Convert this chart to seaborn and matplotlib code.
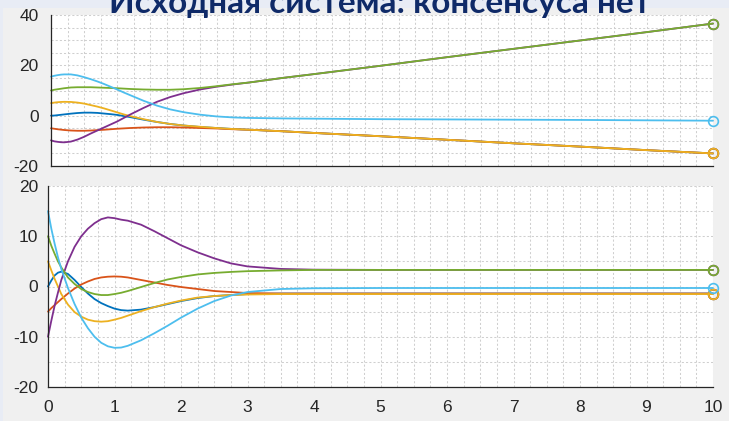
import matplotlib
matplotlib.use("Agg")
import matplotlib.pyplot as plt
from matplotlib.patches import Rectangle
from matplotlib.ticker import MultipleLocator
import seaborn as sns

# time samples
t = [0, 0.05, 0.1, 0.15, 0.2, 0.3, 0.4, 0.5, 0.6, 0.7, 0.8, 0.9, 1.0, 1.1, 1.2, 1.4, 1.6,
     1.8, 2.0, 2.25, 2.5, 2.75, 3.0, 3.5, 4.0, 5, 6, 7, 8, 9, 10]

# agent states x_i(t)
blue_x = [0.0, 0.05, 0.2, 0.35, 0.5, 0.8, 1.05, 1.2, 1.2, 1.1, 0.85, 0.6, 0.3, -0.15, -0.6,
          -1.6, -2.5, -3.3, -3.9, -4.5, -4.9, -5.3, -5.6, -6.2, -6.9, -8.2, -9.6, -11.0,
          -12.3, -13.7, -15.0]
orange_x = [-5.0, -5.2, -5.4, -5.55, -5.7, -5.9, -6.0, -6.0, -5.9, -5.75, -5.6, -5.4, -5.2,
            -5.05, -4.9, -4.7, -4.6, -4.6, -4.7, -4.9, -5.1, -5.4, -5.6, -6.2, -6.9, -8.2,
            -9.6, -11.0, -12.3, -13.7, -15.0]
yellow_x = [5.0, 5.2, 5.35, 5.45, 5.5, 5.45, 5.2, 4.8, 4.2, 3.6, 2.9, 2.1, 1.3, 0.5, -0.2,
            -1.4, -2.5, -3.3, -3.9, -4.4, -4.9, -5.3, -5.6, -6.2, -6.9, -8.2, -9.6, -11.0,
            -12.3, -13.7, -15.0]
purple_x = [-9.8, -10.2, -10.4, -10.55, -10.6, -10.3, -9.5, -8.4, -7.1, -5.9, -4.7, -3.5,
            -2.3, -0.9, 0.5, 3.1, 5.5, 7.4, 8.9, 10.4, 11.5, 12.4, 13.2, 15.0, 16.6, 19.9,
            23.3, 26.6, 29.9, 33.2, 36.6]
green_x = [10.0, 10.3, 10.5, 10.7, 10.9, 11.2, 11.3, 11.3, 11.3, 11.2, 11.1, 11.0, 10.9,
           10.75, 10.6, 10.4, 10.3, 10.3, 10.5, 11.0, 11.7, 12.5, 13.2, 15.0, 16.6, 19.9,
           23.3, 26.6, 29.9, 33.2, 36.6]
lightblue_x = [15.5, 15.85, 16.1, 16.3, 16.4, 16.4, 16.0, 15.3, 14.5, 13.6, 12.6, 11.5, 10.4,
               9.2, 8.1, 5.9, 4.0, 2.5, 1.4, 0.4, -0.3, -0.7, -0.9, -1.1, -1.2, -1.4, -1.5,
               -1.6, -1.7, -1.85, -2.0]

# agent velocities v_i(t)
blue_v = [0.0, 1.2, 2.2, 2.75, 2.95, 2.5, 1.3, -0.1, -1.4, -2.5, -3.3, -3.9, -4.4, -4.7, -4.8,
          -4.6, -4.1, -3.5, -2.9, -2.3, -1.9, -1.7, -1.5, -1.4, -1.4, -1.4, -1.4, -1.4, -1.4,
          -1.4, -1.4]
orange_v = [-5.0, -4.3, -3.7, -3.1, -2.5, -1.4, -0.4, 0.4, 1.0, 1.5, 1.8, 1.95, 2.0, 1.95,
            1.8, 1.3, 0.8, 0.3, -0.1, -0.5, -0.9, -1.1, -1.3, -1.4, -1.4, -1.4, -1.4, -1.4,
            -1.4, -1.4, -1.4]
yellow_v = [5.0, 3.2, 1.5, 0.0, -1.5, -3.6, -5.1, -6.0, -6.6, -6.9, -7.0, -6.9, -6.6, -6.25,
            -5.8, -4.9, -4.1, -3.4, -2.8, -2.2, -1.9, -1.7, -1.6, -1.5, -1.5, -1.5, -1.5,
            -1.5, -1.5, -1.5, -1.5]
purple_v = [-10.0, -6.8, -3.8, -1.2, 1.3, 5.0, 7.9, 10.0, 11.5, 12.6, 13.4, 13.75, 13.6,
            13.3, 13.1, 12.3, 11.0, 9.6, 8.2, 6.8, 5.6, 4.6, 4.0, 3.5, 3.35, 3.3, 3.3, 3.3,
            3.3, 3.3, 3.3]
green_v = [10.0, 8.1, 6.5, 5.0, 3.8, 1.8, 0.5, -0.5, -1.1, -1.5, -1.7, -1.7, -1.5, -1.25,
           -0.9, -0.1, 0.7, 1.4, 1.9, 2.4, 2.7, 2.9, 3.05, 3.2, 3.3, 3.3, 3.3, 3.3, 3.3, 3.3,
           3.3]
lightblue_v = [15.0, 11.5, 8.5, 5.8, 3.5, -0.3, -3.5, -6.2, -8.3, -10.0, -11.2, -11.9, -12.2,
               -12.15, -11.8, -10.7, -9.3, -7.8, -6.2, -4.4, -2.9, -1.8, -1.1, -0.5, -0.35,
               -0.3, -0.3, -0.3, -0.3, -0.3, -0.3]

colors = ["#0072BD", "#D95319", "#EDB120", "#7E2F8E", "#77AC30", "#4DBEEE"]
states = [blue_x, orange_x, yellow_x, purple_x, green_x, lightblue_x]
velocities = [blue_v, orange_v, yellow_v, purple_v, green_v, lightblue_v]

title = "Исходная система: консенсуса нет"

sns.set_theme(style="white")
plt.rcParams["font.family"] = ["Liberation Sans", "DejaVu Sans"]
plt.rcParams["axes.unicode_minus"] = False

W, H = 729, 421
fig = plt.figure(figsize=(W / 100, H / 100), dpi=100, facecolor="#f0f0f0")
# slide background strip behind the title
fig.add_artist(Rectangle((0, 1 - 8 / H), 1, 8 / H, transform=fig.transFigure,
                         facecolor="#e8ecf5", edgecolor="none", zorder=0))
fig.add_artist(Rectangle((0, 0), 3 / W, 1, transform=fig.transFigure,
                         facecolor="#e8ecf5", edgecolor="none", zorder=0))

ax_top = fig.add_axes([51 / W, 1 - 166 / H, (713 - 51) / W, (166 - 15) / H])
ax_bot = fig.add_axes([48 / W, 1 - 387 / H, (713 - 48) / W, (387 - 186) / H])


def draw(ax, series):
    for vals, c in zip(series, colors):
        sns.lineplot(x=t, y=vals, ax=ax, color=c, lw=1.3, marker="o",
                     markevery=[len(t) - 1], markersize=7, mfc="none", mec=c,
                     mew=1.2, clip_on=False, sort=False, estimator=None)


def style(ax, ylim, ymaj, ymin, labels_x, ypad):
    ax.set_facecolor("white")
    ax.set_xlim(0, 10)
    ax.set_ylim(*ylim)
    ax.xaxis.set_major_locator(MultipleLocator(1))
    ax.xaxis.set_minor_locator(MultipleLocator(0.25))
    ax.yaxis.set_major_locator(MultipleLocator(ymaj))
    ax.yaxis.set_minor_locator(MultipleLocator(ymin))
    ax.grid(True, which="both", linestyle=(0, (2, 2)), color="#cfcfcf", lw=0.75)
    ax.set_axisbelow(True)
    for s in ["top", "right"]:
        ax.spines[s].set_visible(False)
    for s in ["left", "bottom"]:
        ax.spines[s].set_color("#262626")
        ax.spines[s].set_linewidth(0.9)
    ax.tick_params(which="major", direction="in", length=4, width=0.9,
                   color="#262626", labelcolor="#262626", labelsize=12.5)
    ax.tick_params(axis="y", pad=9 if ypad is None else ypad)
    ax.tick_params(axis="x", pad=9, labelbottom=labels_x)
    ax.tick_params(which="minor", length=0)
    ax.set_xlabel("")
    ax.set_ylabel("")


draw(ax_top, states)
draw(ax_bot, velocities)
style(ax_top, (-20, 40), 20, 5, False, 9)
style(ax_bot, (-20, 20), 10, 5, True, 7)

fig.text(380 / W, 1 - 13 / H, title, ha="center", va="baseline",
         fontsize=24, fontweight="bold", color="#0f2a68", family=["Lato", "DejaVu Sans"])

fig.savefig("out.png", dpi=100, facecolor=fig.get_facecolor())
